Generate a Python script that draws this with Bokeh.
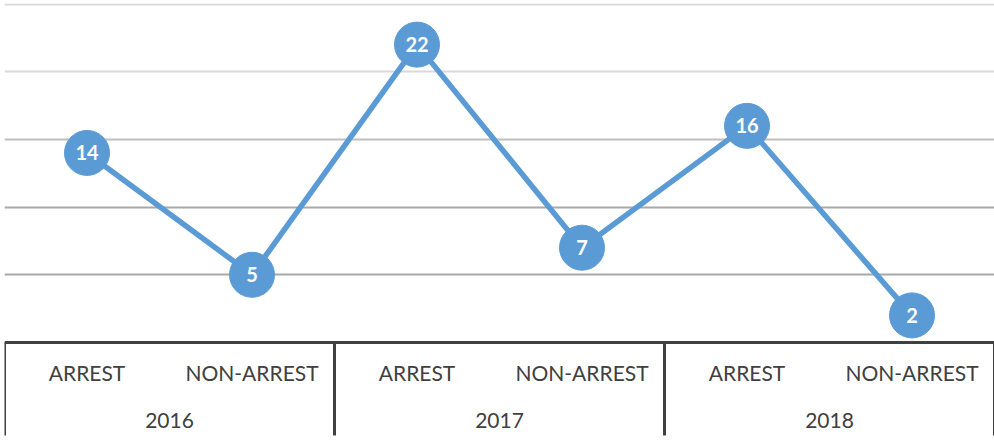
from bokeh.plotting import figure
from bokeh.models import FactorRange, Range1d, FixedTicker, ColumnDataSource, Grid
from bokeh.core.properties import value
from bokeh.embed import file_html
from bokeh.resources import INLINE

years = ["2016", "2017", "2018"]
types = ["ARREST", "NON-ARREST"]
counts = [14, 5, 22, 7, 16, 2]
grid_dark = [5, 10]
grid_mid = [15]
grid_light = [20, 25]

factors = [(y, t) for y in years for t in types]
n_types = len(types)

BLUE = "#5b9bd5"
AXIS = "#404040"
FONT = value("Lato")

p = figure(width=990, height=434,
           x_range=FactorRange(*factors, factor_padding=0, group_padding=0, range_padding=0),
           y_range=Range1d(-7.02, 25.037),
           output_backend="svg", toolbar_location=None,
           min_border=0, margin=(3, 0, 0, 4))
p.xaxis.visible = False
p.yaxis.visible = False
p.grid.visible = False
for ticks, col in ((grid_light, "#d9d9d9"), (grid_mid, "#bfbfbf"), (grid_dark, "#a8a8a8")):
    p.add_layout(Grid(dimension=1, ticker=FixedTicker(ticks=ticks),
                      grid_line_color=col, grid_line_width=2))
p.outline_line_color = None
p.background_fill_color = "white"
p.border_fill_color = "white"

src = ColumnDataSource(dict(x=factors, y=counts, label=[str(c) for c in counts]))

p.line("x", "y", source=src, line_width=5.5, line_color=BLUE)
p.scatter("x", "y", source=src, size=45, fill_color=BLUE, line_color=BLUE)
p.text("x", "y", text="label", source=src, text_color="white", text_font=FONT,
       text_font_style="bold", text_font_size="20px", text_align="center",
       text_baseline="middle")

# category axis box
bounds = [i * n_types for i in range(len(years) + 1)]
y_bottom = p.y_range.start
p.segment(x0=[bounds[0]], y0=[0], x1=[bounds[-1]], y1=[0], line_color=AXIS, line_width=3)
p.segment(x0=bounds, y0=[0] * len(bounds), x1=bounds, y1=[y_bottom + 0.15] * len(bounds),
          line_color=AXIS, line_width=3)

p.text(x=factors, y=[-2.2] * len(factors), text=[f[1] for f in factors],
       text_color=AXIS, text_font=FONT, text_font_size="21px",
       text_align="center", text_baseline="middle")
p.text(x=years, y=[-5.76] * len(years), text=years,
       text_color=AXIS, text_font=FONT, text_font_size="21px",
       text_align="center", text_baseline="middle")

open("out.html", "w").write(file_html(p, INLINE))
